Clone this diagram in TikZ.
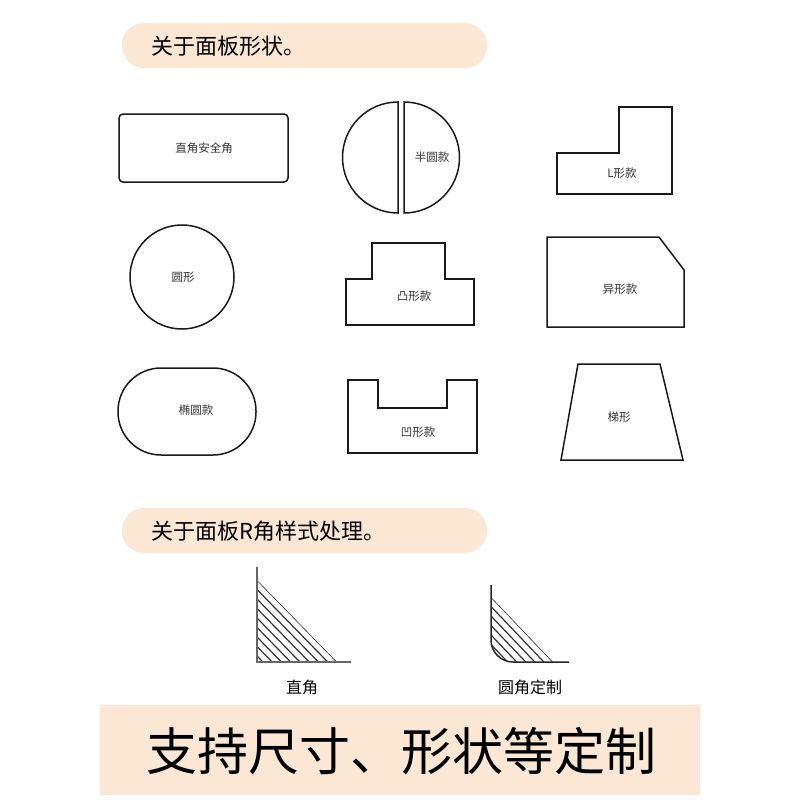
\documentclass[tikz,border=0pt]{standalone}
\usepackage{fontspec}
\setmainfont{Noto Sans CJK SC}
\begin{document}
\begin{tikzpicture}[x=1pt,y=-1pt,
  shp/.style={draw=black!90,line width=1.5pt,fill=white},
  lbl/.style={font=\fontsize{11.5}{13}\selectfont,text=black!80},
  pill/.style={fill=peach,rounded corners=22pt,draw=none},
  hatch/.style={draw=black!80,line width=1.2pt}]
\definecolor{peach}{HTML}{FCE6D4}
\useasboundingbox (0,0) rectangle (800,800);
\fill[white] (0,0) rectangle (800,800);
% headers
\fill[pill] (122,23) rectangle (487,68);
\node[anchor=west,font=\fontsize{22}{24}\selectfont] (h1) at (148,46) {关于面板形状。};
\fill[pill] (122,508) rectangle (487,553);
\node[anchor=west,font=\fontsize{22}{24}\selectfont] (h2) at (148,531) {关于面板R角样式处理。};
\fill[peach] (100,705) rectangle (700,795);
\node[font=\fontsize{51}{54}\selectfont] (h3) at (401,751) {支持尺寸、形状等定制};
% row 1
\draw[shp,rounded corners=4pt] (119,114) rectangle (288,182);
\node[lbl] (a1) at (204,148) {直角安全角};
\draw[shp] (398,102) arc[start angle=-90,end angle=-270,radius=55.5] -- cycle;
\draw[shp] (404,102) arc[start angle=-90,end angle=90,radius=55.5] -- cycle;
\node[lbl] (a2) at (432,157) {半圆款};
\draw[shp] (557,153) -- (619,153) -- (619,107) -- (672,107) -- (672,194) -- (557,194) -- cycle;
\node[lbl] (a3) at (622,173) {L形款};
% row 2
\draw[shp] (182,277) circle[radius=52];
\node[lbl] (b1) at (183,277) {圆形};
\draw[shp] (346,279) -- (372,279) -- (372,243) -- (445,243) -- (445,279) -- (474,279) -- (474,325) -- (346,325) -- cycle;
\node[lbl] (b2) at (414,296) {凸形款};
\draw[shp] (547,237) -- (659,237) -- (684,270) -- (684,327) -- (547,327) -- cycle;
\node[lbl] (b3) at (620,289) {异形款};
% row 3
\draw[shp,rounded corners=43pt] (118,368) rectangle (256,455);
\node[lbl] (c1) at (196,410) {椭圆款};
\draw[shp] (348,380) -- (378,380) -- (378,408) -- (447,408) -- (447,380) -- (477,380) -- (477,453) -- (348,453) -- cycle;
\node[lbl] (c2) at (418,432) {凹形款};
\draw[shp] (578,364) -- (660,364) -- (683,460) -- (561,460) -- cycle;
\node[lbl] (c3) at (619,417) {梯形};
% R corners
\begin{scope}
\clip (257,580) -- (257,662) -- (337,662) -- cycle;
\foreach \d in {0,9.5,...,95} \draw[hatch] (257,580+\d) -- ++(100,102.5);
\end{scope}
\draw[draw=black!60,line width=1.3pt] (257,567) -- (257,662) -- (351,662);
\begin{scope}
\clip (491,597) -- (491,640) arc[start angle=180,end angle=90,radius=22] -- (553,662) -- cycle;
\foreach \d in {0,9.5,...,75} \draw[hatch] (491,597+\d) -- ++(100,105);
\end{scope}
\draw[draw=black!85,line width=1.5pt] (491,585) -- (491,640) arc[start angle=180,end angle=90,radius=22] -- (569,662);
\node[font=\fontsize{16}{18}\selectfont] (d1) at (302,687) {直角};
\node[font=\fontsize{16}{18}\selectfont] (d2) at (530,687) {圆角定制};
\end{tikzpicture}
\end{document}
